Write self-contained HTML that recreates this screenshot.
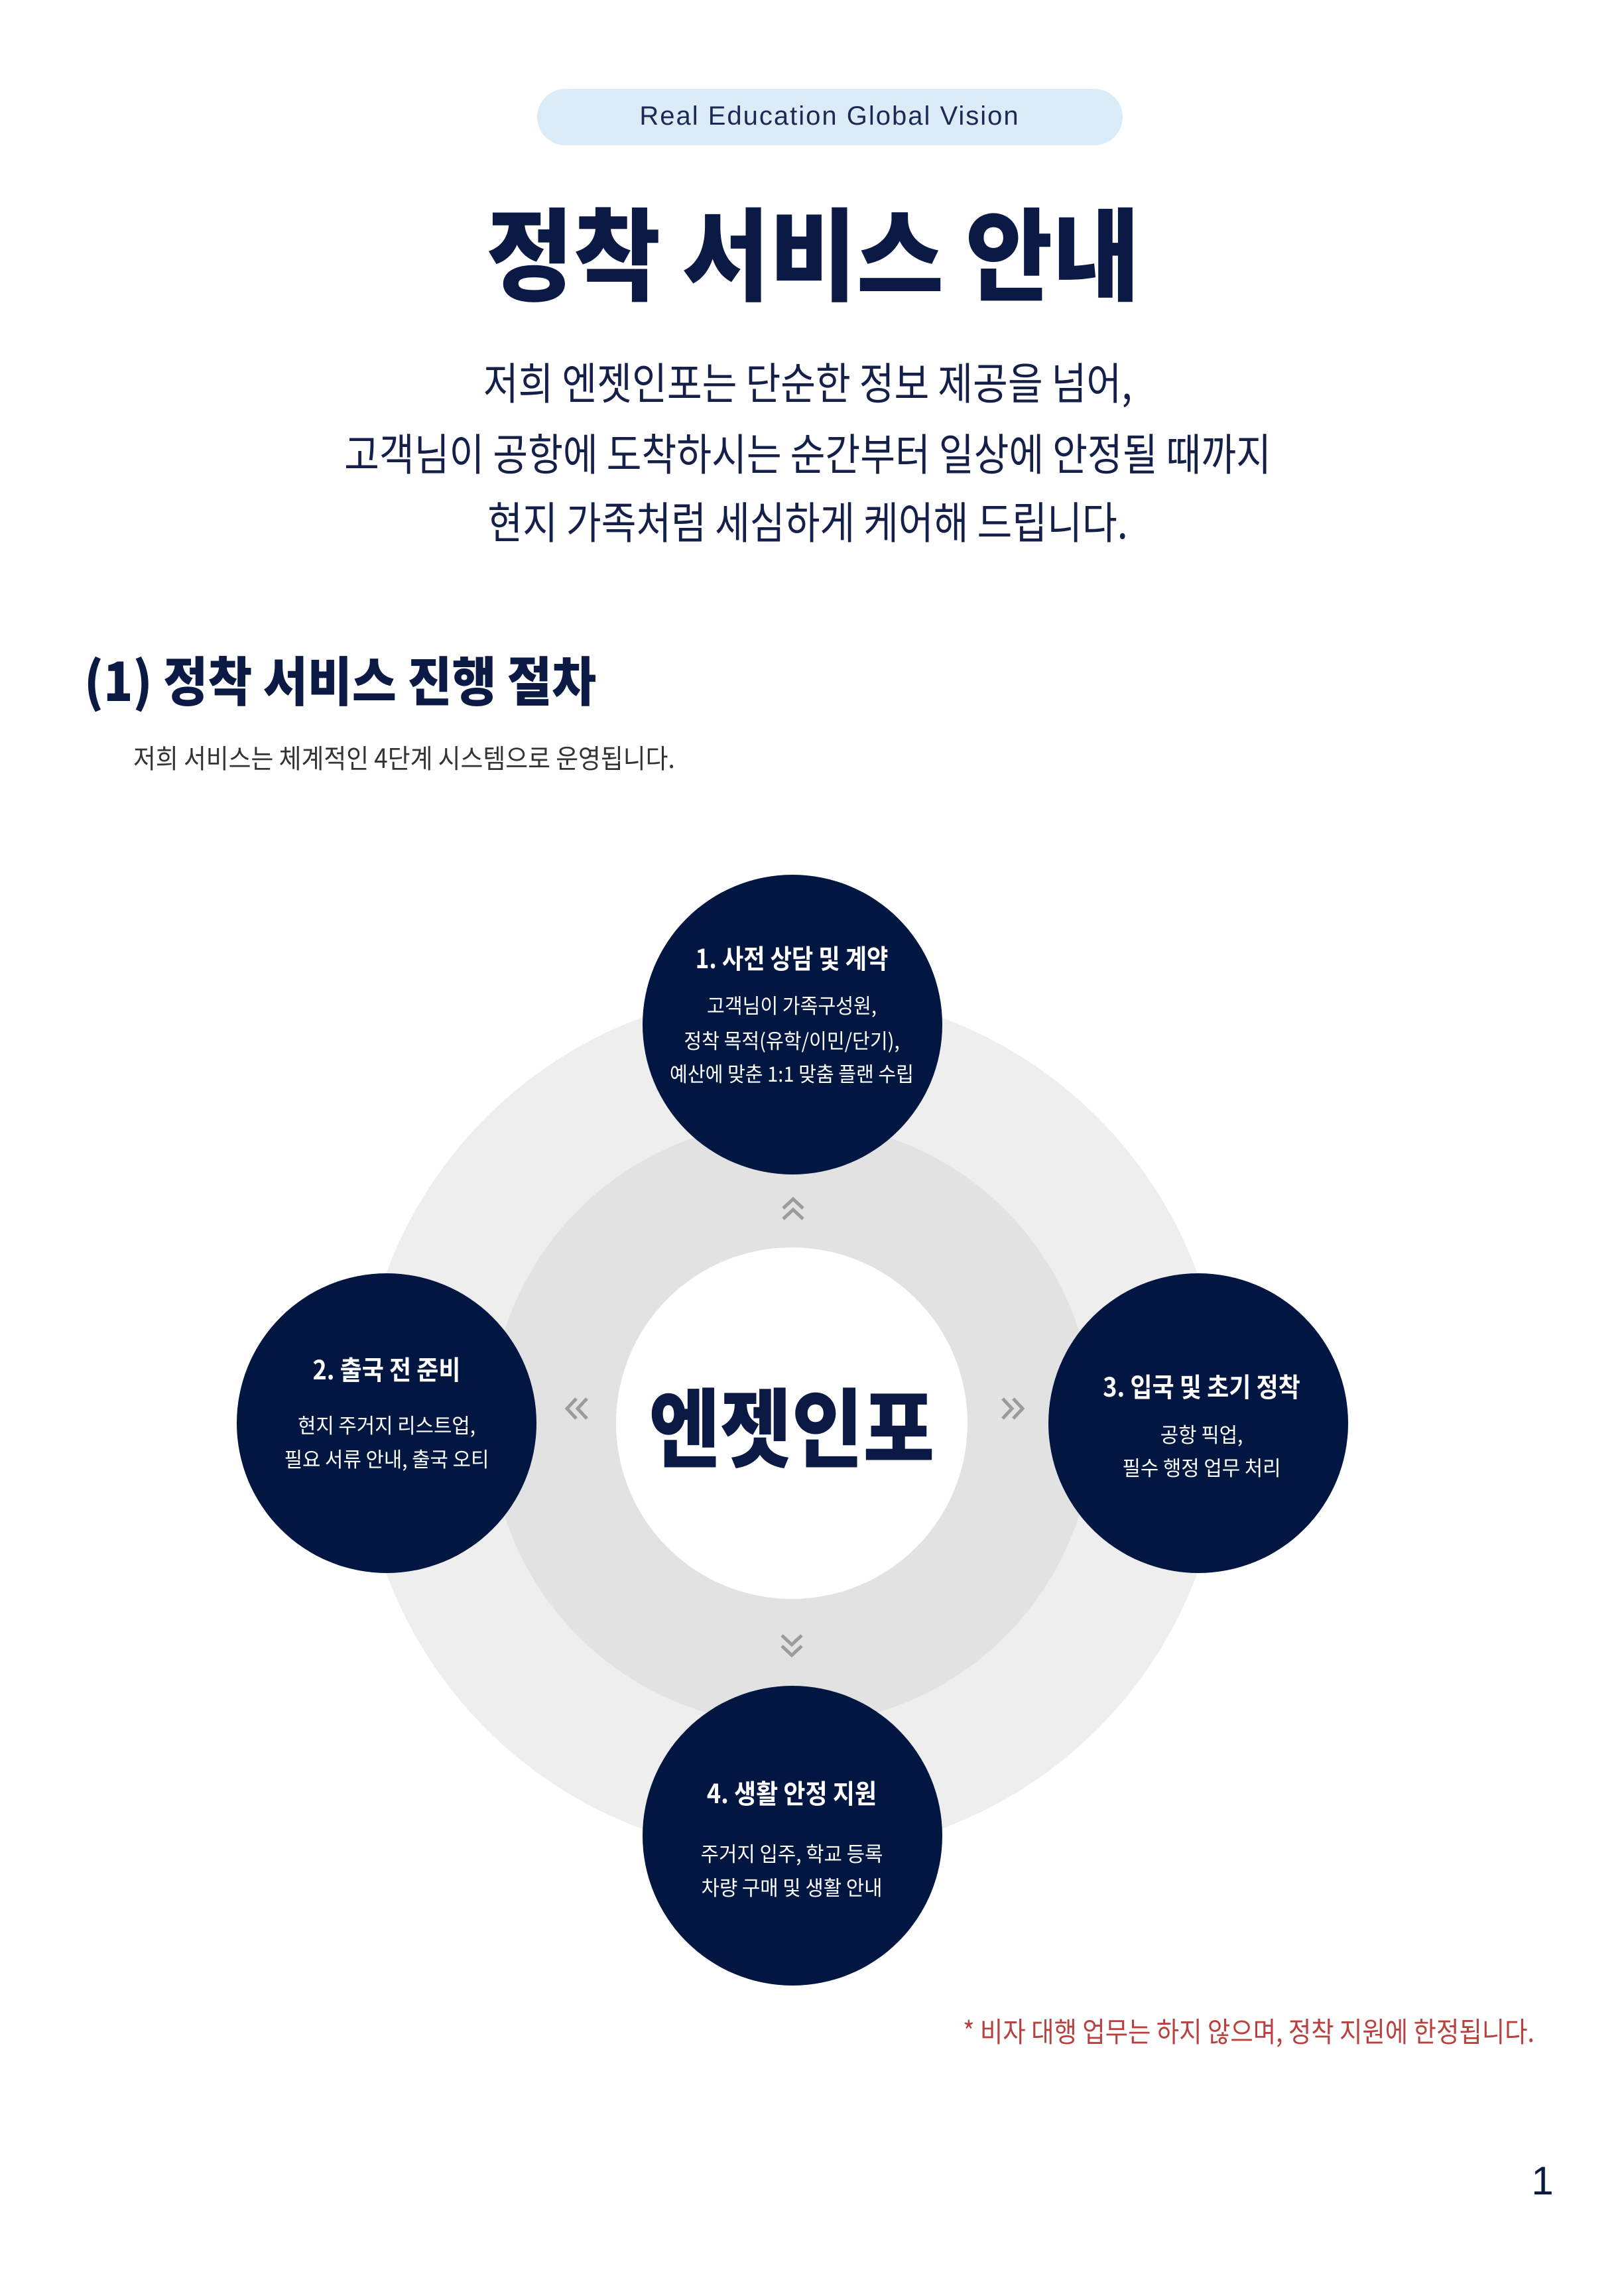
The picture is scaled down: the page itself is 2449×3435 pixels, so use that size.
<!DOCTYPE html>
<html><head><meta charset="utf-8">
<style>
html,body{margin:0;padding:0;background:#fff;}
body{width:2449px;height:3435px;position:relative;overflow:hidden;font-family:"Liberation Sans","Noto Sans CJK KR",sans-serif;}
.t{position:absolute;width:2000px;text-align:center;white-space:nowrap;}
.c{position:absolute;border-radius:50%;}
</style></head><body>

<div style="position:absolute;left:810px;top:134px;width:883px;height:85px;border-radius:43px;background:#dbebf7;"></div>
<div class="t" style="left:251px;top:150px;line-height:50px;font-size:40px;color:#1b2a52;letter-spacing:2px;">Real Education Global Vision</div>

<div class="t" style="left:226px;top:290px;line-height:170px;font-size:152px;font-weight:900;color:#0b1a45;transform:scaleX(.94);font-family:'Noto Sans CJK KR',sans-serif;">정착 서비스 안내</div>

<div class="t" style="left:218px;top:534px;line-height:80px;font-size:66px;color:#14204a;transform:scaleX(.87);font-family:'Noto Sans CJK KR',sans-serif;">저희 엔젯인포는 단순한 정보 제공을 넘어,</div>
<div class="t" style="left:218px;top:641px;line-height:80px;font-size:66px;color:#14204a;transform:scaleX(.87);font-family:'Noto Sans CJK KR',sans-serif;">고객님이 공항에 도착하시는 순간부터 일상에 안정될 때까지</div>
<div class="t" style="left:218px;top:744px;line-height:80px;font-size:66px;color:#14204a;transform:scaleX(.87);font-family:'Noto Sans CJK KR',sans-serif;">현지 가족처럼 세심하게 케어해 드립니다.</div>

<div style="position:absolute;left:127px;top:973px;line-height:100px;font-size:80px;font-weight:900;color:#0b1a45;white-space:nowrap;transform:scaleX(.91);transform-origin:left center;font-family:'Noto Sans CJK KR',sans-serif;">(1) 정착 서비스 진행 절차</div>
<div style="position:absolute;left:201px;top:1116px;line-height:50px;font-size:40px;color:#333;white-space:nowrap;transform:scaleX(.92);transform-origin:left center;font-family:'Noto Sans CJK KR',sans-serif;">저희 서비스는 체계적인 4단계 시스템으로 운영됩니다.</div>

<div class="c" style="left:542px;top:1494px;width:1304px;height:1304px;background:#eeeeee;"></div>
<div class="c" style="left:739px;top:1691px;width:910px;height:910px;background:#e2e2e2;"></div>
<div class="c" style="left:929px;top:1881px;width:530px;height:530px;background:#fff;"></div>

<div class="c" style="left:969px;top:1319px;width:452px;height:452px;background:#021642;"></div>
<div class="c" style="left:357px;top:1920px;width:452px;height:452px;background:#021642;"></div>
<div class="c" style="left:1581px;top:1920px;width:452px;height:452px;background:#021642;"></div>
<div class="c" style="left:969px;top:2542px;width:452px;height:452px;background:#021642;"></div>

<div class="t" style="left:194px;top:2066px;line-height:160px;font-size:130px;font-weight:900;color:#0b1a45;transform:scaleX(.9);font-family:'Noto Sans CJK KR',sans-serif;">엔젯인포</div>

<div class="t" style="left:194px;top:1418px;line-height:50px;font-size:40px;font-weight:700;color:#fff;transform:scaleX(.88);font-family:'Noto Sans CJK KR',sans-serif;">1. 사전 상담 및 계약</div>
<div class="t" style="left:194px;top:1495px;line-height:40px;font-size:31px;color:#fff;transform:scaleX(.94);font-family:'Noto Sans CJK KR',sans-serif;">고객님이 가족구성원,</div>
<div class="t" style="left:194px;top:1548px;line-height:40px;font-size:31px;color:#fff;transform:scaleX(.94);font-family:'Noto Sans CJK KR',sans-serif;">정착 목적(유학/이민/단기),</div>
<div class="t" style="left:194px;top:1598px;line-height:40px;font-size:31px;color:#fff;transform:scaleX(.94);font-family:'Noto Sans CJK KR',sans-serif;">예산에 맞춘 1:1 맞춤 플랜 수립</div>

<div class="t" style="left:-417px;top:2038px;line-height:50px;font-size:40px;font-weight:700;color:#fff;transform:scaleX(.9);font-family:'Noto Sans CJK KR',sans-serif;">2. 출국 전 준비</div>
<div class="t" style="left:-417px;top:2128px;line-height:40px;font-size:31px;color:#fff;transform:scaleX(.96);font-family:'Noto Sans CJK KR',sans-serif;">현지 주거지 리스트업,</div>
<div class="t" style="left:-417px;top:2179px;line-height:40px;font-size:31px;color:#fff;transform:scaleX(.96);font-family:'Noto Sans CJK KR',sans-serif;">필요 서류 안내, 출국 오티</div>

<div class="t" style="left:812px;top:2064px;line-height:50px;font-size:40px;font-weight:700;color:#fff;transform:scaleX(.9);font-family:'Noto Sans CJK KR',sans-serif;">3. 입국 및 초기 정착</div>
<div class="t" style="left:812px;top:2142px;line-height:40px;font-size:31px;color:#fff;transform:scaleX(.96);font-family:'Noto Sans CJK KR',sans-serif;">공항 픽업,</div>
<div class="t" style="left:812px;top:2192px;line-height:40px;font-size:31px;color:#fff;transform:scaleX(.96);font-family:'Noto Sans CJK KR',sans-serif;">필수 행정 업무 처리</div>

<div class="t" style="left:194px;top:2677px;line-height:50px;font-size:40px;font-weight:700;color:#fff;transform:scaleX(.9);font-family:'Noto Sans CJK KR',sans-serif;">4. 생활 안정 지원</div>
<div class="t" style="left:194px;top:2774px;line-height:40px;font-size:31px;color:#fff;transform:scaleX(.96);font-family:'Noto Sans CJK KR',sans-serif;">주거지 입주, 학교 등록</div>
<div class="t" style="left:194px;top:2825px;line-height:40px;font-size:31px;color:#fff;transform:scaleX(.96);font-family:'Noto Sans CJK KR',sans-serif;">차량 구매 및 생활 안내</div>

<svg style="position:absolute;left:0;top:0" width="2449" height="3435">
<g fill="none" stroke="#9c9c9c" stroke-width="5">
<polyline points="1181,1822 1196,1808 1211,1822"/><polyline points="1181,1838 1196,1824 1211,1838"/>
<polyline points="1179,2466 1194,2480 1209,2466"/><polyline points="1179,2482 1194,2496 1209,2482"/>
<polyline points="869,2109 855,2124 869,2139"/><polyline points="885,2109 871,2124 885,2139"/>
<polyline points="1512,2109 1526,2124 1512,2139"/><polyline points="1528,2109 1542,2124 1528,2139"/>
</g></svg>

<div class="t" style="left:883px;top:3037px;line-height:50px;font-size:42px;color:#b8403f;transform:scaleX(.89);font-family:'Noto Sans CJK KR',sans-serif;">* 비자 대행 업무는 하지 않으며, 정착 지원에 한정됩니다.</div>

<div style="position:absolute;left:2296px;top:3254px;width:60px;text-align:center;line-height:70px;font-size:60px;color:#0b1a45;">1</div>

</body></html>
